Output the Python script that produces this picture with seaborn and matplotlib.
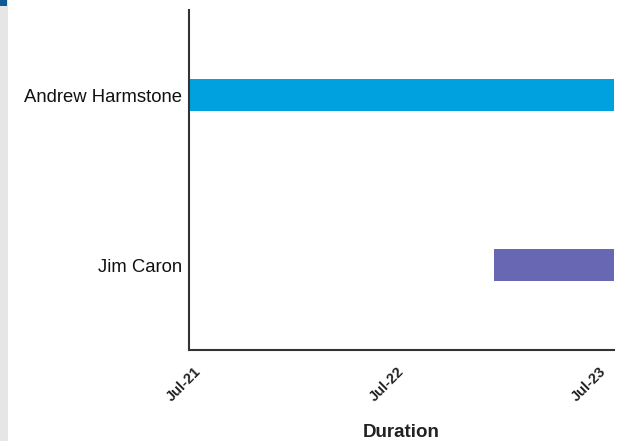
import matplotlib
matplotlib.use("Agg")
import matplotlib.pyplot as plt
import matplotlib.dates as mdates
import matplotlib.patches as mpatches
import seaborn as sns
import pandas as pd
import numpy as np

names = ["Andrew Harmstone", "Jim Caron"]
starts = ["2021-06-13", "2022-12-14"]
ends = ["2023-07-19", "2023-07-19"]
colors = ["#00a1df", "#6767b3"]
tick_dates = ["2021-07-01", "2022-07-01", "2023-07-01"]
x_label = "Duration"

sns.set_style("white")
plt.rcParams["font.family"] = ["Liberation Sans", "DejaVu Sans"]

start_num = mdates.date2num(pd.to_datetime(starts))
end_num = mdates.date2num(pd.to_datetime(ends))
df = pd.DataFrame({"name": names, "start": start_num, "dur": end_num - start_num})

fig = plt.figure(figsize=(6.19, 4.41), dpi=100)
ax = fig.add_axes([189 / 619, 91 / 441, 425 / 619, 340 / 441])

sns.barplot(data=df, x="dur", y="name", orient="h", left=df["start"].values,
            width=0.185, color=colors[0], ax=ax, linewidth=0)
for p, c in zip(ax.patches, colors):
    p.set_facecolor(c)
    p.set_edgecolor("none")

tnum = mdates.date2num(pd.to_datetime(tick_dates))
ax.set_xlim(start_num.min(), end_num.max())
ax.set_ylim(1.5, -0.5)
ax.set_xticks(tnum)
ax.xaxis.set_major_formatter(mdates.DateFormatter("%b-%y"))
for lab in ax.get_xticklabels():
    lab.set_rotation(45)
    lab.set_ha("right")
    lab.set_va("center")
    lab.set_rotation_mode("anchor")
    lab.set_fontweight("bold")
    lab.set_fontsize(10.5)
    lab.set_color("#222222")
ax.tick_params(axis="x", length=0, pad=14)
ax.tick_params(axis="y", length=0, pad=5, labelsize=13.3, labelcolor="#111111")
ax.set_ylabel("")
ax.set_xlabel(x_label, fontsize=13.5, fontweight="bold", color="#222222", labelpad=14)

sns.despine(ax=ax, top=True, right=True)
for s in ["left", "bottom"]:
    ax.spines[s].set_color("#333333")
    ax.spines[s].set_linewidth(1.5)

fig.patches.append(mpatches.Rectangle((0, 0), 8 / 619, 1, transform=fig.transFigure,
                                      facecolor="#e6e6e6", edgecolor="none"))
fig.patches.append(mpatches.Rectangle((0, 1 - 6 / 441), 7 / 619, 6 / 441, transform=fig.transFigure,
                                      facecolor="#0f5a99", edgecolor="none"))

fig.savefig("out.png", dpi=100)
